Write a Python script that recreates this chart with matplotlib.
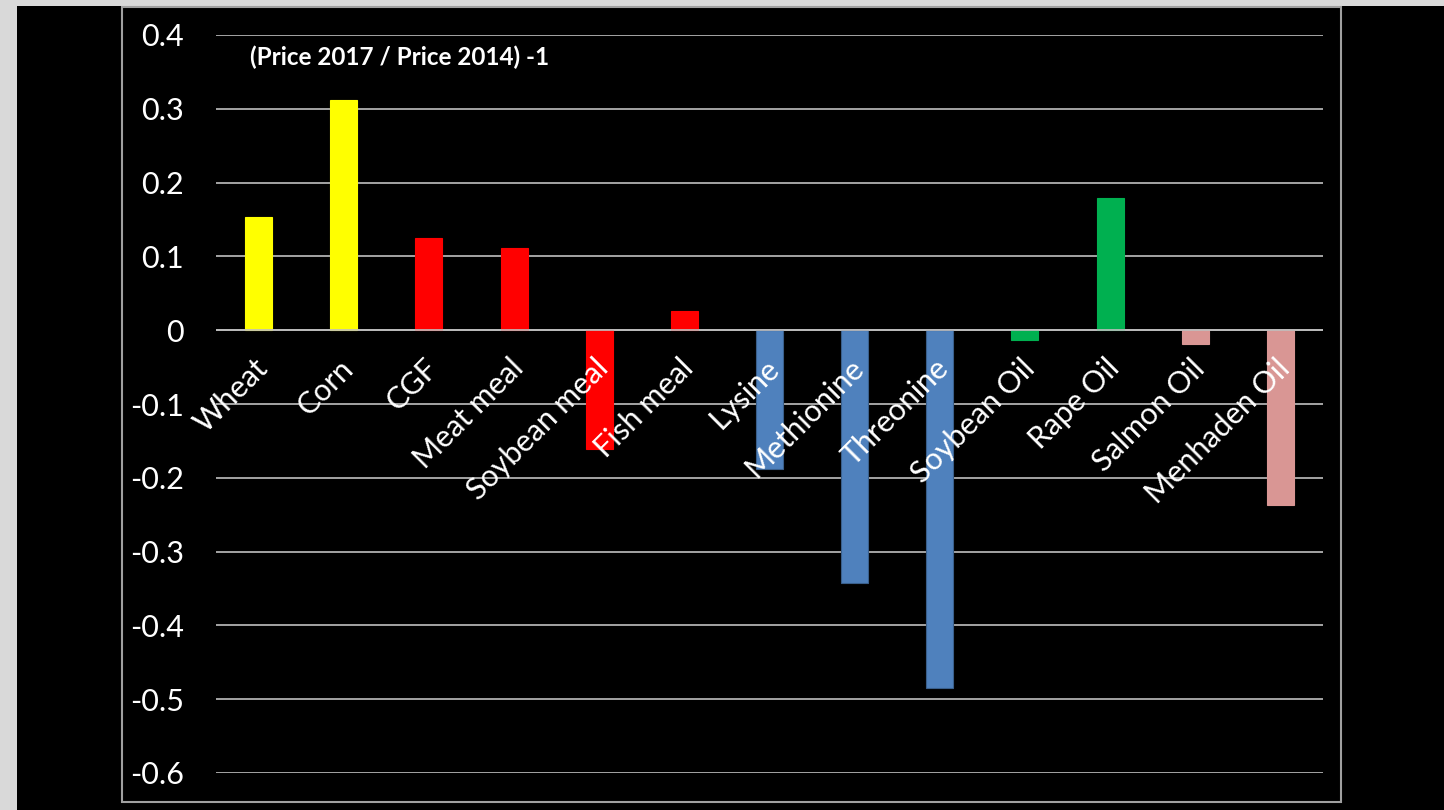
import matplotlib.pyplot as plt
from matplotlib.patches import Rectangle
from matplotlib.transforms import blended_transform_factory

plt.rcParams['font.family'] = ['Lato', 'DejaVu Sans']

categorias = ['Wheat', 'Corn', 'CGF', 'Meat meal', 'Soybean meal', 'Fish meal',
              'Lysine', 'Methionine', 'Threonine', 'Soybean Oil', 'Rape Oil',
              'Salmon Oil', 'Menhaden Oil']
valores = [0.153, 0.312, 0.125, 0.111, -0.161, 0.026, -0.188, -0.343, -0.485,
           -0.0135, 0.179, -0.0185, -0.237]
colores = ['#FFFF00', '#FFFF00', '#FF0000', '#FF0000', '#FF0000', '#FF0000',
           '#4F81BD', '#4F81BD', '#4F81BD', '#00B050', '#00B050',
           '#D99694', '#D99694']
ticks_y = [0.4, 0.3, 0.2, 0.1, 0, -0.1, -0.2, -0.3, -0.4, -0.5, -0.6]
titulo = '(Price 2017 / Price 2014) -1'

W, H = 1444, 810
fig = plt.figure(figsize=(W / 100, H / 100), dpi=100)
fig.patch.set_facecolor('#d9d9d9')

# fondo negro y borde del area del grafico
fig.patches.append(Rectangle((17 / W, 0), 1 - 17 / W, (H - 6) / H,
                             transform=fig.transFigure, facecolor='black',
                             edgecolor='none', zorder=-10))
fig.patches.append(Rectangle((122 / W, (H - 802) / H), (1341 - 122) / W, (802 - 7) / H,
                             transform=fig.transFigure, facecolor='none',
                             edgecolor='#a0a0a0', lw=1.5, zorder=-9))

ax = fig.add_axes([216 / W, (H - 773) / H, (1323 - 216) / W, (773 - 35) / H])
ax.set_facecolor('none')
ax.set_xlim(-0.5, len(categorias) - 0.5)
ax.set_ylim(-0.6, 0.4)

for y in ticks_y:
    ax.axhline(y, color='#bfbfbf', lw=1.2, zorder=1)

x = list(range(len(categorias)))
bordes = ['#3a5f8b' if c == '#4F81BD' else c for c in colores]
ax.bar(x, valores, width=0.317, color=colores, edgecolor=bordes, lw=0.8, zorder=2)
ax.axhline(0, color='#bfbfbf', lw=1.2, zorder=3)

ax.set_yticks(ticks_y)
ax.set_yticklabels([f'{t:g}' for t in ticks_y])
ax.tick_params(axis='y', length=0, pad=23, labelsize=22, labelcolor='white')
ax.set_xticks([])
for s in ax.spines.values():
    s.set_visible(False)

trans = blended_transform_factory(ax.transData, ax.transData)
for xi, cat in zip(x, categorias):
    ax.text(xi - 0.06, -0.032, cat, transform=trans, rotation=45,
            rotation_mode='anchor', ha='right', va='top', fontsize=22,
            color='white', zorder=4)

ax.text(0.031, 0.97, titulo, transform=ax.transAxes, fontsize=17.5,
        fontweight='bold', color='white', ha='left', va='center')

fig.savefig('out.png', dpi=100, facecolor=fig.get_facecolor())
